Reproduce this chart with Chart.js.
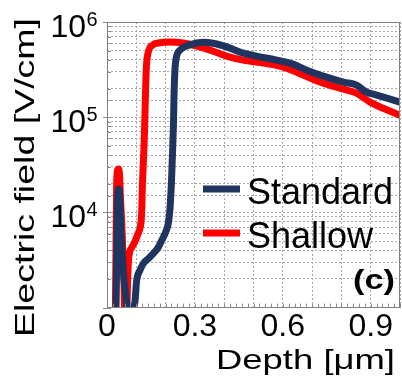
<!DOCTYPE html>
<html><head><meta charset="utf-8">
<script src="https://cdn.jsdelivr.net/npm/chart.js@4/dist/chart.umd.min.js"></script>
<style>html,body{margin:0;padding:0;background:#fff;overflow:hidden}canvas{display:block}</style>
</head><body>
<canvas id="c" width="402" height="378"></canvas>
<script>
// ---- data ----
const seriesNames = ['Standard', 'Shallow'];
const seriesColors = ['#1f3560', '#ff0000'];

const standardDepth = [0.030,0.033,0.035,0.038,0.041,0.044,0.047,0.051,0.058,0.066,0.072,0.076,0.084,0.090,0.096,0.101,0.112,0.124,0.140,0.158,0.175,0.187,0.200,0.209,0.215,0.220,0.224,0.227,0.229,0.232,0.237,0.249,0.272,0.306,0.334,0.374,0.420,0.454,0.511,0.579,0.625,0.682,0.738,0.807,0.852,0.886,0.920,0.966,1.000];
const standardField = [600,3000,10000,17000,17500,13000,7000,4000,2000,1200,700,400,400,900,1200,1900,2450,2900,3250,3700,4300,5100,6200,7600,11000,21000,45000,90000,180000,320000,428000,507000,559000,601000,612000,587000,532000,483000,438000,398000,370000,312000,270000,234000,217000,183000,171000,155000,144000];

const shallowDepth = [0.028,0.031,0.033,0.036,0.040,0.043,0.046,0.050,0.054,0.058,0.061,0.066,0.070,0.074,0.085,0.096,0.106,0.113,0.118,0.121,0.124,0.128,0.131,0.134,0.140,0.155,0.180,0.215,0.260,0.306,0.352,0.408,0.465,0.534,0.602,0.670,0.738,0.807,0.852,0.898,0.943,1.000];
const shallowField = [600,5000,20000,28000,28500,24000,14000,8000,4000,1800,700,600,1800,3300,4300,5000,6000,6900,9500,20000,33000,70000,160000,320000,470000,570000,605000,615000,601000,559000,507000,438000,398000,370000,336000,277000,228000,197000,179000,144000,124000,105000];

const xTickValues = [0, 0.3, 0.6, 0.9];
const xTickLabels = ['0', '0.3', '0.6', '0.9'];
const yTickValues = [1e4, 1e5, 1e6];
const yTickBase = '10';
const yTickExponents = ['4', '5', '6'];
const xTitle = 'Depth [\u03bcm]';
const yTitle = 'Electric field [V/cm]';
const panelTag = '(c)';

const FONT = '"Liberation Sans", Arial, sans-serif';

function toPoints(xs, ys) { return xs.map((v, i) => ({ x: v, y: ys[i] })); }

function drawStretched(ctx, text, font, x, y, width, align) {
  ctx.font = font;
  const w = ctx.measureText(text).width;
  const s = width / w;
  ctx.save();
  ctx.translate(x, y);
  ctx.scale(s, 1);
  ctx.textAlign = align; ctx.textBaseline = 'alphabetic';
  ctx.fillText(text, 0, 0);
  ctx.restore();
}

const overlay = {
  id: 'overlay',
  afterDraw(chart) {
    const { ctx, chartArea: a, scales } = chart;
    const x = scales.x, y = scales.y;
    ctx.save();
    // minor x ticks
    ctx.strokeStyle = '#8c8c8c'; ctx.lineWidth = 1; ctx.setLineDash([]);
    for (let i = 0; i <= 50; i++) {
      const px = Math.round(x.getPixelForValue(i * 0.02)) + 0.5;
      ctx.beginPath(); ctx.moveTo(px, a.bottom); ctx.lineTo(px, a.bottom - 4); ctx.stroke();
    }
    // y ticks
    y.ticks.forEach(t => {
      const py = Math.round(y.getPixelForValue(t.value)) + 0.5;
      const major = Math.abs(Math.log10(t.value) - Math.round(Math.log10(t.value))) < 1e-6;
      ctx.beginPath(); ctx.moveTo(a.left, py); ctx.lineTo(a.left + 4, py); ctx.stroke();
      if (major) { ctx.beginPath(); ctx.moveTo(a.left - 4, py); ctx.lineTo(a.left, py); ctx.stroke(); }
    });
    // frame
    ctx.strokeStyle = '#808080';
    ctx.strokeRect(Math.round(a.left) + 0.5, Math.round(a.top) + 0.5, Math.round(a.right - a.left) - 1, Math.round(a.bottom - a.top) - 1);

    // y tick labels with superscripts
    ctx.fillStyle = '#000';
    yTickValues.forEach((v, i) => {
      const py = y.getPixelForValue(v);
      ctx.font = '32px ' + FONT; ctx.textAlign = 'right'; ctx.textBaseline = 'alphabetic';
      ctx.fillText(yTickBase, 86, py + 15);
      ctx.font = '20px ' + FONT; ctx.textAlign = 'left';
      ctx.fillText(yTickExponents[i], 86.5, py + 4);
    });

    // axis titles
    ctx.save();
    ctx.translate(34, 177.5);
    ctx.rotate(-Math.PI / 2);
    drawStretched(ctx, yTitle, '28px ' + FONT, 0, 0, 319, 'center');
    ctx.restore();
    drawStretched(ctx, xTitle, '28px ' + FONT, 305.5, 369, 179, 'center');

    // legend
    const legY = [189, 233];
    chart.data.datasets.forEach((ds, i) => {
      ctx.strokeStyle = ds.borderColor; ctx.lineWidth = 7; ctx.lineCap = 'butt';
      ctx.beginPath(); ctx.moveTo(203, legY[i]); ctx.lineTo(240, legY[i]); ctx.stroke();
      ctx.fillStyle = '#000'; ctx.font = '36px ' + FONT; ctx.textAlign = 'left'; ctx.textBaseline = 'alphabetic';
      ctx.fillText(ds.label, 247, legY[i] + 15);
    });

    // panel tag
    drawStretched(ctx, panelTag, 'bold 27px ' + FONT, 395, 289, 42, 'right');
    ctx.restore();
  }
};

new Chart(document.getElementById('c'), {
  type: 'line',
  data: {
    datasets: [
      { label: seriesNames[0], data: toPoints(standardDepth, standardField), borderColor: seriesColors[0], backgroundColor: seriesColors[0], clip: 0 },
      { label: seriesNames[1], data: toPoints(shallowDepth, shallowField), borderColor: seriesColors[1], backgroundColor: seriesColors[1], clip: 0 }
    ]
  },
  options: {
    responsive: false,
    animation: false,
    devicePixelRatio: 1,
    layout: { padding: { left: 107, top: 22, right: 2, bottom: 32 } },
    plugins: { legend: { display: false }, tooltip: { enabled: false } },
    elements: {
      point: { radius: 0 },
      line: { borderWidth: 7, cubicInterpolationMode: 'monotone', borderCapStyle: 'round', borderJoinStyle: 'round' }
    },
    scales: {
      x: {
        type: 'linear', min: 0, max: 1,
        ticks: {
          stepSize: 0.1, autoSkip: false, maxRotation: 0, padding: 0, color: '#000',
          font: { family: FONT, size: 32 },
          callback: (v) => { const k = xTickValues.findIndex(t => Math.abs(t - v) < 1e-6); return k >= 0 ? xTickLabels[k] : ''; }
        },
        grid: { color: '#a8a8a8', lineWidth: 1, drawTicks: false },
        border: { display: false, dash: [2, 2] }
      },
      y: {
        type: 'logarithmic', min: 1000, max: 1e6,
        ticks: { display: false },
        grid: { color: '#a8a8a8', lineWidth: 1, drawTicks: false },
        border: { display: false, dash: [2, 2] },
        afterFit: (s) => { s.width = 0; }
      }
    }
  },
  plugins: [overlay]
});
</script>
</body></html>
